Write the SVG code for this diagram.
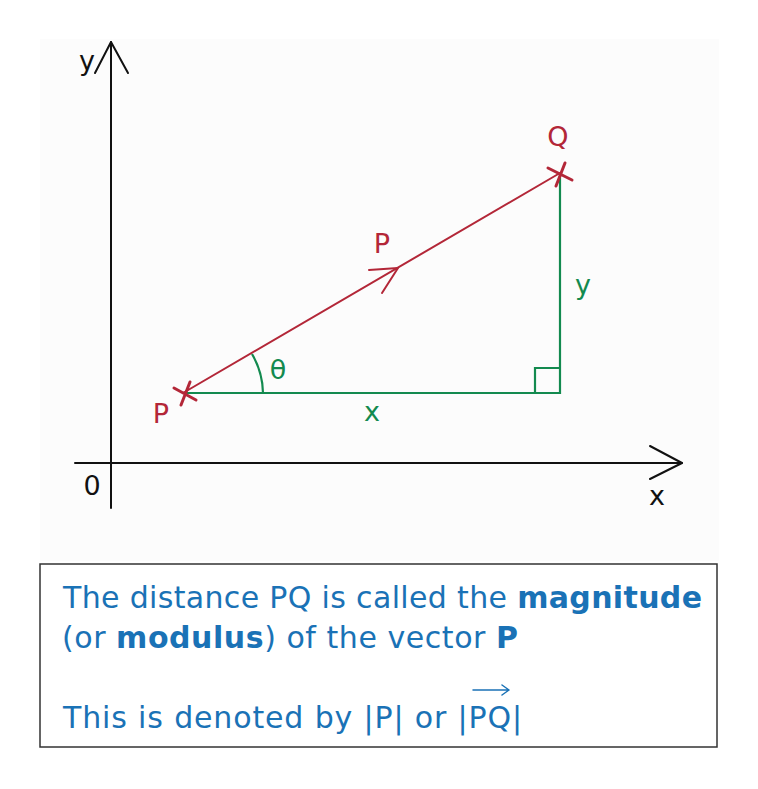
<svg xmlns="http://www.w3.org/2000/svg" width="758" height="789" viewBox="0 0 758 789">
<defs>
<style>
.ax{stroke:#111;stroke-width:2;fill:none;stroke-linecap:round;stroke-linejoin:round}
.red{stroke:#b32738;stroke-width:2;fill:none;stroke-linecap:round;stroke-linejoin:round}
.cross{stroke:#b32738;stroke-width:3;fill:none;stroke-linecap:round}
.grn{stroke:#138a4f;stroke-width:2.2;fill:none}
.lbl{font-family:"DejaVu Sans","Liberation Sans",sans-serif;font-size:27px;text-anchor:middle}
.kr{fill:#b32738}.kg{fill:#138a4f}.kk{fill:#111}
.bt{font-family:"DejaVu Sans","Liberation Sans",sans-serif;font-size:30px;fill:#1a72b6}
.b{font-weight:bold}
</style>
</defs>
<rect width="758" height="789" fill="#fff"/>
<rect x="40" y="39" width="679" height="522" fill="#fcfcfc"/>
<g id="axes">
<path class="ax" d="M111,42 V508"/>
<path class="ax" d="M95,73 L111,42 L128,73"/>
<path class="ax" d="M75,463 H682"/>
<path class="ax" d="M650,446 L682,463 L650,479"/>
<text class="lbl kk" x="87" y="70">y</text>
<text class="lbl kk" x="657" y="505">x</text>
<text class="lbl kk" x="92" y="495">0</text>
</g>
<g id="connectors">
<path class="grn" d="M183,393 H560 V173"/>
<path class="grn" d="M535,393 V368 H560"/>
<path class="grn" d="M263,393 A80,80 0 0 0 252,354"/>
<path class="red" d="M183,393 L560,173"/>
<path class="red" d="M369,270 L398,268 L382,293"/>
</g>
<g id="P">
<path class="cross" d="M174,388 L196,400 M181,405 L190,382"/>
<text class="lbl kr" x="161" y="423">P</text>
</g>
<g id="Q">
<path class="cross" d="M548,168 L572,180 M556,186 L565,163"/>
<text class="lbl kr" x="558" y="146">Q</text>
</g>
<g id="vector-label">
<text class="lbl kr" x="382" y="253">P</text>
</g>
<g id="theta">
<text class="lbl kg" x="278" y="379">θ</text>
</g>
<g id="x-label"><text class="lbl kg" x="372" y="421">x</text></g>
<g id="y-label"><text class="lbl kg" x="583" y="294">y</text></g>
<g id="info-box">
<rect x="40" y="564" width="677" height="183" fill="#fff" stroke="#333" stroke-width="1.5"/>
<text class="bt" x="63" y="608" textLength="639">The distance PQ is called the <tspan class="b">magnitude</tspan></text>
<text class="bt" x="62" y="648" textLength="456">(or <tspan class="b">modulus</tspan>) of the vector <tspan class="b">P</tspan></text>
<text class="bt" x="63" y="728" textLength="459">This is denoted by |P| or |PQ|</text>
<path d="M473,690 H509 M502,685 L509,690 L502,695" fill="none" stroke="#1a72b6" stroke-width="1.5" stroke-linecap="round" stroke-linejoin="round"/>
</g>
</svg>
